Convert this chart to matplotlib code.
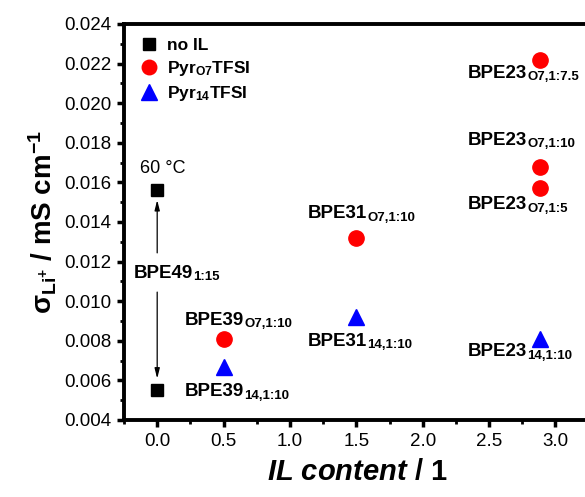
import matplotlib
matplotlib.use("Agg")
import matplotlib.pyplot as plt
from matplotlib.ticker import MultipleLocator, FormatStrFormatter

plt.rcParams['font.family'] = ['Liberation Sans', 'DejaVu Sans']
plt.rcParams['mathtext.fontset'] = 'custom'
plt.rcParams['mathtext.rm'] = 'Liberation Sans'
plt.rcParams['mathtext.bf'] = 'Liberation Sans:bold'
plt.rcParams['mathtext.it'] = 'Liberation Sans:italic'
plt.rcParams['mathtext.bfit'] = 'Liberation Sans:bold:italic'

# IL content (mol ratio) and Li+ conductivity (mS/cm)
no_il_x = [0.0, 0.0]
no_il_y = [0.0156, 0.0055]
o7_x = [0.5, 1.5, 2.88, 2.88, 2.88]
o7_y = [0.0081, 0.0132, 0.0222, 0.0168, 0.0157]
p14_x = [0.5, 1.5, 2.88]
p14_y = [0.0067, 0.0092, 0.0081]

# sample labels: (x, y, main, subscript)
labels = [
    (0.21, 0.00903, "BPE39", "O7,1:10"),
    (0.21, 0.00542, "BPE39", "14,1:10"),
    (1.135, 0.01441, "BPE31", "O7,1:10"),
    (1.135, 0.00796, "BPE31", "14,1:10"),
    (2.34, 0.02151, "BPE23", "O7,1:7.5"),
    (2.34, 0.01811, "BPE23", "O7,1:10"),
    (2.34, 0.01486, "BPE23", "O7,1:5"),
    (2.34, 0.00745, "BPE23", "14,1:10"),
    (-0.18, 0.01141, "BPE49", "1:15"),
]

fig = plt.figure(figsize=(5.85, 4.97), dpi=100)
ax = fig.add_axes([124 / 585, 77 / 497, (590 - 124) / 585, (420 - 24) / 497])

ax.plot(no_il_x, no_il_y, 's', color='black', ms=9, label='no IL', zorder=3)
ax.plot(o7_x, o7_y, 'o', color='#ff0000', ms=11, mec='#ff0000',
        label=r'Pyr$_{\mathbf{O7}}$TFSI', zorder=3)
ax.plot(p14_x, p14_y, '^', color='#0000ff', ms=12, mec='#0000ff',
        label=r'Pyr$_{\mathbf{14}}$TFSI', zorder=3)

ax.set_xlim(-0.25, 3.26)
ax.set_ylim(0.004, 0.024)

for x, y, main, sub in labels:
    t = ax.text(x, y, main, fontsize=13.5, fontweight='bold', ha='left', va='center')
    ax.annotate(sub, xy=(1, 0), xycoords=t, xytext=(0.2, 1.2),
                textcoords='offset points', fontsize=9.5, fontweight='bold',
                ha='left', va='baseline')

ax.text(-0.13, 0.01669, "60 °C", fontsize=13, ha='left', va='center')

# temperature arrows
arrow_kw = dict(arrowstyle='-|>,head_length=0.6,head_width=0.15', color='black', lw=0.9)
ax.annotate('', xy=(0.0, 0.01525), xytext=(0.0, 0.0123), arrowprops=arrow_kw)
ax.annotate('', xy=(0.0, 0.00595), xytext=(0.0, 0.0106), arrowprops=arrow_kw)

leg = ax.legend(loc='upper left', bbox_to_anchor=(0.0, 0.995), frameon=False,
                prop={'weight': 'bold', 'size': 12.5}, handletextpad=0.25,
                labelspacing=0.35, markerscale=0.95, borderaxespad=0.3,
                handlelength=1.5)

ax.xaxis.set_major_locator(MultipleLocator(0.5))
ax.xaxis.set_minor_locator(MultipleLocator(0.25))
ax.yaxis.set_major_locator(MultipleLocator(0.002))
ax.yaxis.set_minor_locator(MultipleLocator(0.001))
ax.xaxis.set_major_formatter(FormatStrFormatter('%.1f'))
ax.yaxis.set_major_formatter(FormatStrFormatter('%.3f'))

ax.tick_params(which='major', direction='out', length=5, width=2.5,
               labelsize=13.5, pad=4)
ax.tick_params(which='minor', direction='out', length=3, width=2)
ax.tick_params(top=False, right=False)
for s in ax.spines.values():
    s.set_linewidth(2.8)

ax.set_ylabel(r'σ$_{\mathbf{Li}^{\mathbf{+}}}$ / mS cm$^{\mathbf{-1}}$',
              fontsize=20, fontweight='bold', labelpad=4)
ax.set_xlabel(r'$\mathbfit{IL\ content}$ / 1', fontsize=21, fontweight='bold',
              labelpad=6)

fig.savefig('out.png', dpi=100)
